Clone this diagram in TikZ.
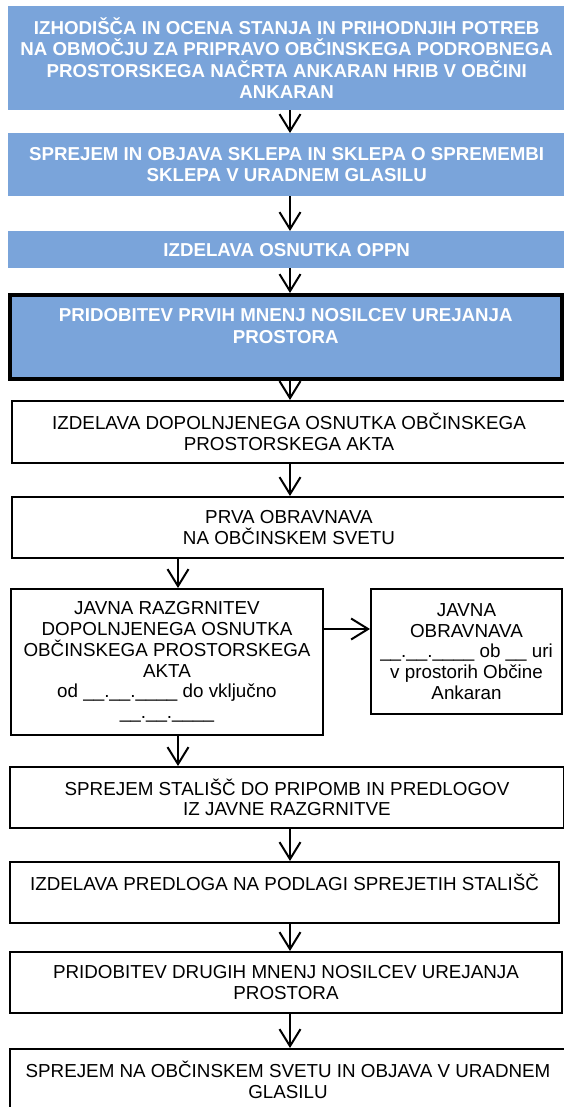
\documentclass[tikz,border=0pt]{standalone}
\usepackage{fontspec}
\setmainfont{Liberation Sans}
\usetikzlibrary{arrows.meta}
\definecolor{plava}{RGB}{122,164,218}

\begin{document}
\begin{tikzpicture}[x=1pt,y=-1pt,
 modri/.style={fill=plava,text=white,font=\bfseries\fontsize{18.7}{21.6}\selectfont,align=center,anchor=north west,inner sep=0pt},
 beli/.style={draw,line width=2pt,font=\fontsize{18.8}{20.7}\selectfont,align=center,anchor=north west,inner sep=0pt},
 puscica/.style={line width=2pt,-{Straight Barb[length=17pt,width=21pt,line width=2pt]}}]
 \useasboundingbox(0,0) rectangle (563,1107);
 \coordinate (os) at (290,0);
 \coordinate (levo) at (178,0);
 \coordinate (vod) at (0,629);
 % modri okvirji
 \node[modri,minimum width=557,minimum height=104](izhodisca) at (8,6)
  {IZHODIŠČA IN OCENA STANJA IN PRIHODNJIH POTREB\\NA OBMOČJU ZA PRIPRAVO OBČINSKEGA PODROBNEGA\\PROSTORSKEGA NAČRTA ANKARAN HRIB V OBČINI\\ANKARAN};
 \node[modri,minimum width=557,minimum height=63](sklep) at (8,133)
  {SPREJEM IN OBJAVA SKLEPA IN SKLEPA O SPREMEMBI\\SKLEPA V URADNEM GLASILU};
 \node[modri,minimum width=557,minimum height=37](osnutek) at (8,231) {IZDELAVA OSNUTKA OPPN};
 \node[modri,draw=black,line width=3.5pt,minimum width=552,minimum height=84](mnenja) at (8,293)
  {PRIDOBITEV PRVIH MNENJ NOSILCEV UREJANJA\\PROSTORA\\\mbox{}};
 % beli okvirji
 \node[beli,minimum width=554,minimum height=62](dopolnjen) at (11,400)
  {IZDELAVA DOPOLNJENEGA OSNUTKA OBČINSKEGA\\PROSTORSKEGA AKTA};
 \node[beli,minimum width=554,minimum height=61](obravnava) at (11,496)
  {PRVA OBRAVNAVA\\NA OBČINSKEM SVETU};
 \node[beli,minimum width=312,minimum height=146](razgrnitev) at (10,588)
  {JAVNA RAZGRNITEV\\DOPOLNJENEGA OSNUTKA\\OBČINSKEGA PROSTORSKEGA\\AKTA\\od \_\_.\_\_.\_\_\_\_ do vključno\\\_\_.\_\_.\_\_\_\_};
 \node[beli,minimum width=191,minimum height=125](javna) at (370,588)
  {JAVNA\\OBRAVNAVA\\\_\_.\_\_.\_\_\_\_ ob \_\_ uri\\v prostorih Občine\\Ankaran};
 \node[beli,minimum width=554,minimum height=61](stalisca) at (9,766)
  {SPREJEM STALIŠČ DO PRIPOMB IN PREDLOGOV\\IZ JAVNE RAZGRNITVE};
 \node[beli,minimum width=549,minimum height=61](predlog) at (9,861)
  {IZDELAVA PREDLOGA NA PODLAGI SPREJETIH STALIŠČ\\\mbox{}};
 \node[beli,minimum width=552,minimum height=61](drugamnenja) at (9,951)
  {PRIDOBITEV DRUGIH MNENJ NOSILCEV UREJANJA\\PROSTORA};
 \node[beli,minimum width=556,minimum height=62](sprejem) at (9,1048)
  {SPREJEM NA OBČINSKEM SVETU IN OBJAVA V URADNEM\\GLASILU};
 % puscice
 \draw[puscica](izhodisca.south-|os)--(sklep.north-|os);
 \draw[puscica](sklep.south-|os)--(osnutek.north-|os);
 \draw[puscica](osnutek.south-|os)--(mnenja.north-|os);
 \draw[puscica](mnenja.south-|os)--(dopolnjen.north-|os);
 \draw[puscica](dopolnjen.south-|os)--(obravnava.north-|os);
 \draw[puscica](obravnava.south-|levo)--(razgrnitev.north-|levo);
 \draw[puscica](razgrnitev.east|-vod)--(javna.west|-vod);
 \draw[puscica](razgrnitev.south-|levo)--(stalisca.north-|levo);
 \draw[puscica](stalisca.south-|os)--(predlog.north-|os);
 \draw[puscica](predlog.south-|os)--(drugamnenja.north-|os);
 \draw[puscica](drugamnenja.south-|os)--(sprejem.north-|os);
\end{tikzpicture}
\end{document}
